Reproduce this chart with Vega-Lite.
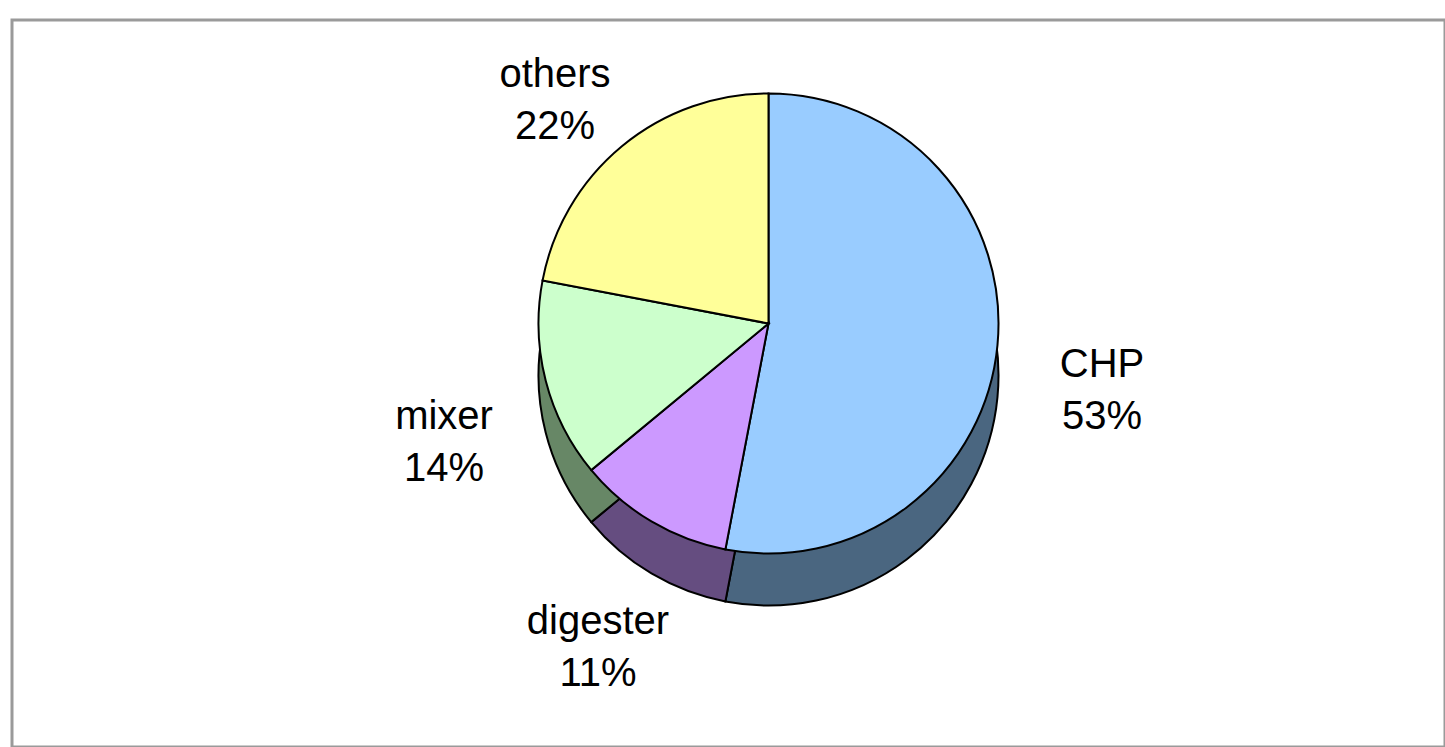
{
  "$schema": "https://vega.github.io/schema/vega-lite/v6.json",
  "width": 1445,
  "height": 747,
  "autosize": {"type": "fit", "contains": "padding"},
  "padding": {"left": 12, "top": 20, "right": 0, "bottom": 0},
  "background": "white",
  "view": {"stroke": "#9a9a9a", "strokeWidth": 3},
  "data": {
    "values": [
      {"part": "CHP", "value": 53, "label": "CHP\n53%", "k": 1},
      {"part": "digester", "value": 11, "label": "digester\n11%", "k": 2},
      {"part": "mixer", "value": 14, "label": "mixer\n14%", "k": 3},
      {"part": "others", "value": 22, "label": "others\n22%", "k": 4}
    ]
  },
  "encoding": {
    "theta": {"field": "value", "type": "quantitative", "stack": true},
    "order": {"field": "k", "type": "quantitative"}
  },
  "layer": [
    {
      "mark": {"type": "arc", "outerRadius": 230, "xOffset": 40, "yOffset": -8, "stroke": "black", "strokeWidth": 2},
      "encoding": {
        "color": {
          "field": "part", "type": "nominal", "legend": null,
          "scale": {"domain": ["CHP", "digester", "mixer", "others"], "range": ["#4a6680", "#654d80", "#678766", "#80804d"]}
        }
      }
    },
    {
      "mark": {"type": "arc", "outerRadius": 230, "xOffset": 40, "yOffset": -60, "stroke": "black", "strokeWidth": 2},
      "encoding": {
        "fill": {
          "field": "part", "type": "nominal", "legend": null,
          "scale": {"domain": ["CHP", "digester", "mixer", "others"], "range": ["#99ccff", "#cc99ff", "#ccffcc", "#ffff99"]}
        }
      }
    },
    {
      "mark": {"type": "text", "radius": 335, "xOffset": 40, "yOffset": -50, "fontSize": 40, "font": "Liberation Sans", "lineBreak": "\n", "color": "black", "baseline": "middle", "align": "center", "lineHeight": 52},
      "encoding": {
        "text": {"field": "label", "type": "nominal"}
      }
    }
  ],
  "resolve": {"scale": {"color": "independent", "fill": "independent"}}
}
